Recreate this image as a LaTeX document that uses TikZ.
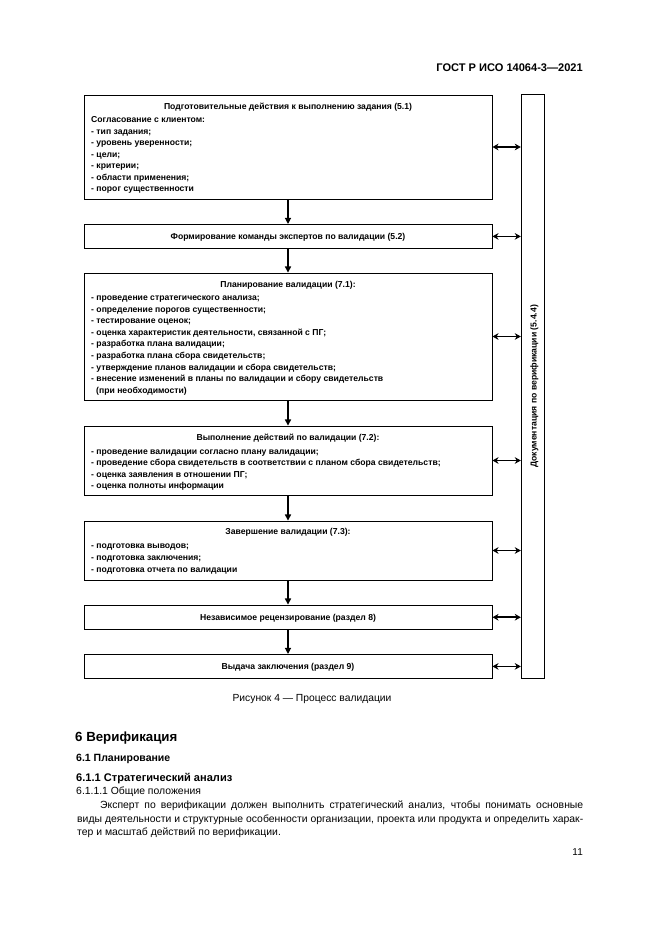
\documentclass[tikz,border=0pt]{standalone}
\usepackage{fontspec}
\setmainfont{Liberation Sans}
\usetikzlibrary{arrows.meta}
\begin{document}
\begin{tikzpicture}[x=0.3177mm, y=-0.3177mm,
  box/.style={draw, line width=0.8pt, inner sep=0pt, minimum width=129.62mm},
  flow/.style={-{Triangle[length=5.5pt,width=5.5pt]}, line width=1.1pt},
  link/.style={{Stealth[length=5.5pt,width=6pt]}-{Stealth[length=5.5pt,width=6pt]}, line width=1.4pt},
  txt/.style={font=\bfseries\fontsize{7.8}{10}\selectfont, inner sep=0pt, anchor=base west},
  ttl/.style={font=\bfseries\fontsize{7.8}{10}\selectfont, inner sep=0pt, anchor=base},
  body/.style={font=\fontsize{9.4}{11}\selectfont, inner sep=0pt, anchor=base west},
]
\fill[white] (0,0) rectangle (661,935);
\useasboundingbox (0,0) rectangle (661,935);

% header
\node[font=\bfseries\fontsize{10}{12}\selectfont, inner sep=0pt, anchor=base east] (hdr) at (583,72) {ГОСТ Р ИСО 14064-3—2021};

% boxes
\node[box, minimum height=33.04mm] (b1) at (288,147) {};
\node[box, minimum height=7.62mm] (b2) at (288,236.4) {};
\node[box, minimum height=40.35mm] (b3) at (288,336.5) {};
\node[box, minimum height=21.92mm] (b4) at (288,460.5) {};
\node[box, minimum height=18.74mm] (b5) at (288,550.5) {};
\node[box, minimum height=7.78mm] (b6) at (288,617.25) {};
\node[box, minimum height=7.62mm] (b7) at (288,666.4) {};
\node[draw, line width=0.8pt, inner sep=0pt, minimum width=7.31mm, minimum height=185.47mm] (bar) at (532.8,386.4) {};
\node[font=\bfseries\fontsize{7.8}{10}\selectfont, inner sep=0pt, rotate=90] (bart) at (534.5,386.4) {Документация по верификации (5.4.4)};

% box 1 text
\node[ttl] (t1) at (288,109.5) {Подготовительные действия к выполнению задания (5.1)};
\node[txt] (s1) at (91,123) {Согласование с клиентом:};
\foreach \t [count=\i] in {{- тип задания;},{- уровень уверенности;},{- цели;},{- критерии;},{- области применения;},{- порог существенности}}
  \node[txt] (l1-\i) at (91,{134.5+11.4*(\i-1)}) {\t};

% box 2
\node[ttl] (t2) at (288,239.5) {Формирование команды экспертов по валидации (5.2)};

% box 3
\node[ttl] (t3) at (288,287) {Планирование валидации (7.1):};
\foreach \t [count=\i] in {{- проведение стратегического анализа;},{- определение порогов существенности;},{- тестирование оценок;},{- оценка характеристик деятельности, связанной с ПГ;},{- разработка плана валидации;},{- разработка плана сбора свидетельств;},{- утверждение планов валидации и сбора свидетельств;},{- внесение изменений в планы по валидации и сбору свидетельств}}
  \node[txt] (l3-\i) at (91,{300.5+11.6*(\i-1)}) {\t};
\node[txt] (l3-9) at (96,393) {(при необходимости)};

% box 4
\node[ttl] (t4) at (288,440) {Выполнение действий по валидации (7.2):};
\foreach \t [count=\i] in {{- проведение валидации согласно плану валидации;},{- проведение сбора свидетельств в соответствии с планом сбора свидетельств;},{- оценка заявления в отношении ПГ;},{- оценка полноты информации}}
  \node[txt] (l4-\i) at (91,{454+11.5*(\i-1)}) {\t};

% box 5
\node[ttl] (t5) at (288,534) {Завершение валидации (7.3):};
\foreach \t [count=\i] in {{- подготовка выводов;},{- подготовка заключения;},{- подготовка отчета по валидации}}
  \node[txt] (l5-\i) at (91,{548+12*(\i-1)}) {\t};

% boxes 6, 7
\node[ttl] (t6) at (288,620) {Независимое рецензирование (раздел 8)};
\node[ttl] (t7) at (288,669) {Выдача заключения (раздел 9)};

% flow arrows
\draw[flow] (b1.south) -- (b2.north);
\draw[flow] (b2.south) -- (b3.north);
\draw[flow] (b3.south) -- (b4.north);
\draw[flow] (b4.south) -- (b5.north);
\draw[flow] (b5.south) -- (b6.north);
\draw[flow] (b6.south) -- (b7.north);

% links to documentation bar
\foreach \b in {b1,b2,b3,b4,b5,b6,b7}
  \draw[link] (\b.east) -- (bar.west |- \b.east);

% caption and text below
\node[font=\fontsize{9.3}{11}\selectfont, inner sep=0pt, anchor=base] (cap) at (312,701) {Рисунок 4 — Процесс валидации};
\node[font=\bfseries\fontsize{12}{14}\selectfont, inner sep=0pt, anchor=base west] (h6) at (75,741.5) {6 Верификация};
\node[font=\bfseries\fontsize{9.5}{11}\selectfont, inner sep=0pt, anchor=base west] (h61) at (76,761.5) {6.1 Планирование};
\node[font=\bfseries\fontsize{10}{12}\selectfont, inner sep=0pt, anchor=base west] (h611) at (76,781) {6.1.1 Стратегический анализ};
\node[body] (h6111) at (76,794) {6.1.1.1 Общие положения};
\node[body] (p1) at (100,808) {\makebox[153.45mm][s]{Эксперт по верификации должен выполнить стратегический анализ, чтобы понимать основные}};
\node[body] (p2) at (77,822) {\makebox[160.76mm][s]{виды деятельности и структурные особенности организации, проекта или продукта и определить харак-}};
\node[body] (p3) at (77,835.5) {тер и масштаб действий по верификации.};
\node[font=\fontsize{9}{11}\selectfont, inner sep=0pt, anchor=base east] (pg) at (583,855) {11};
\end{tikzpicture}
\end{document}
